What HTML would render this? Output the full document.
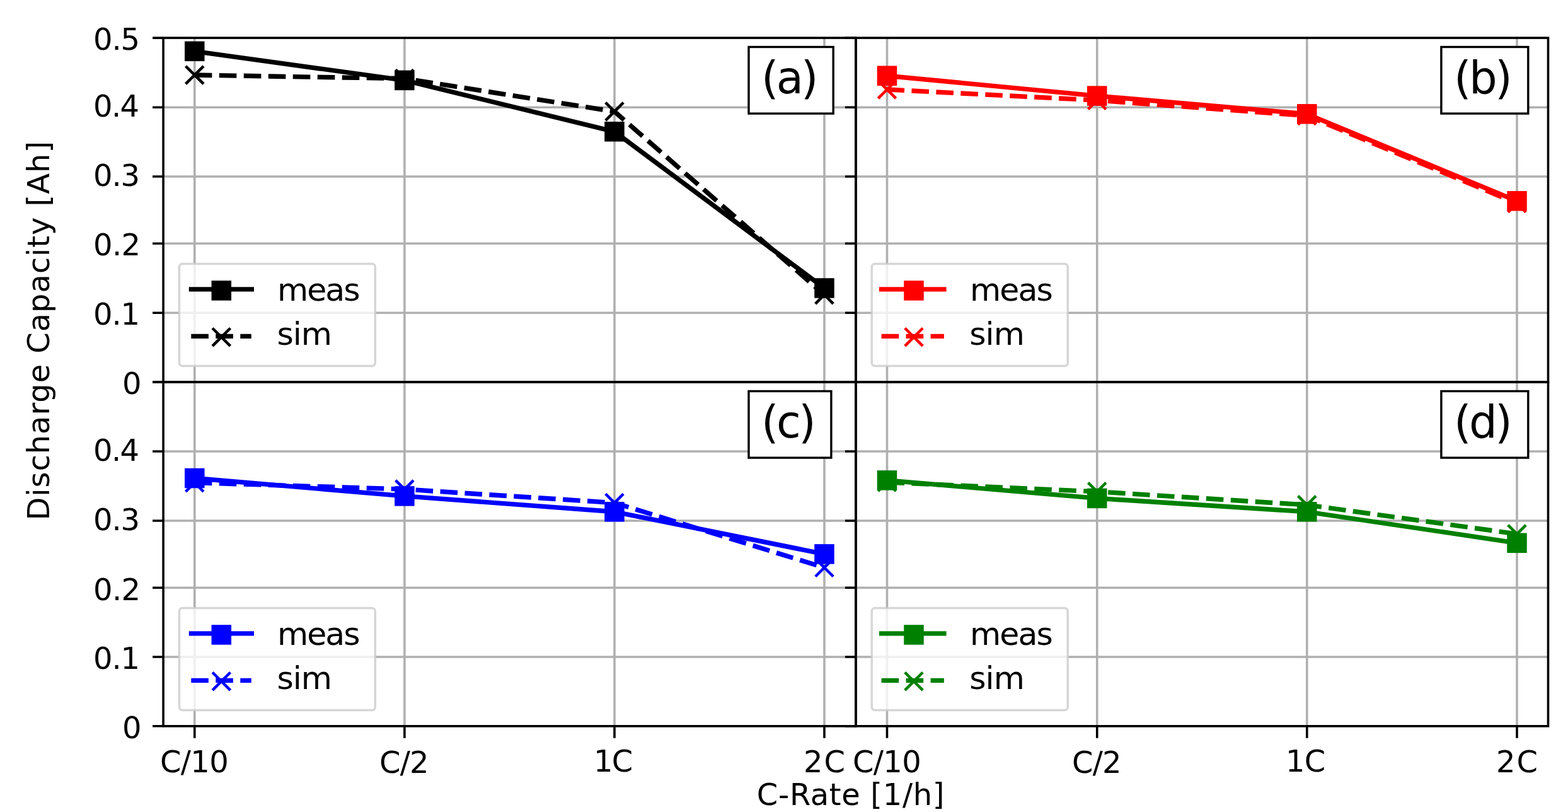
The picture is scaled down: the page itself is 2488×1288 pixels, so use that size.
<!DOCTYPE html><html><head><meta charset="utf-8"><title>Discharge Capacity vs C-Rate</title>
<style>html,body{margin:0;padding:0;background:#fff;overflow:hidden;}svg{display:block;}text{font-family:'DejaVu Sans', 'Liberation Sans', sans-serif;fill:#000;white-space:pre;}</style></head><body>
<svg width="2488" height="1288" viewBox="0 0 2488 1288">
<rect width="2488" height="1288" fill="#fff"/>
<g>
<path d="M308.8 60.1V606.1M641.9 60.1V606.1M975 60.1V606.1M1308 60.1V606.1M259.1 170.2H1358M259.1 280H1358M259.1 386.3H1358M259.1 496.2H1358" stroke="#b0b0b0" stroke-width="3.6" fill="none"/>
<polyline points="308.8,81.3 641.9,127.4 975,208.8 1308,457" fill="none" stroke="#000000" stroke-width="7.4" stroke-linejoin="round"/>
<rect x="295.3" y="67.8" width="27" height="27" fill="#000000" stroke="#000000" stroke-width="4.5"/>
<rect x="628.4" y="113.9" width="27" height="27" fill="#000000" stroke="#000000" stroke-width="4.5"/>
<rect x="961.5" y="195.3" width="27" height="27" fill="#000000" stroke="#000000" stroke-width="4.5"/>
<rect x="1294.5" y="443.5" width="27" height="27" fill="#000000" stroke="#000000" stroke-width="4.5"/>
<polyline points="308.8,119 641.9,124.6 975,176.9 1308,467.6" fill="none" stroke="#000000" stroke-width="7.4" stroke-dasharray="27.6 11.4" stroke-linejoin="round"/>
<path d="M294.6 104.8L323 133.2M294.6 133.2L323 104.8" stroke="#000000" stroke-width="4.5" fill="none"/>
<path d="M627.7 110.4L656.1 138.8M627.7 138.8L656.1 110.4" stroke="#000000" stroke-width="4.5" fill="none"/>
<path d="M960.8 162.7L989.2 191.1M960.8 191.1L989.2 162.7" stroke="#000000" stroke-width="4.5" fill="none"/>
<path d="M1293.8 453.4L1322.2 481.8M1293.8 481.8L1322.2 453.4" stroke="#000000" stroke-width="4.5" fill="none"/>
<rect x="1188" y="74.5" width="134.2" height="105.6" fill="#fff" stroke="#000" stroke-width="3.4"/>
<text id="lbla" font-size="70.5" textLength="90.62" lengthAdjust="spacing" x="1208" y="147.75">(a)</text>
<rect x="284.4" y="418.4" width="310.9" height="162" rx="5" ry="5" fill="#fff" fill-opacity="0.8" stroke="#cccccc" stroke-opacity="0.8" stroke-width="3.5"/>
<path d="M303.5 458.9H399.3" stroke="#000000" stroke-width="7.4" stroke-linecap="square"/>
<rect x="337.8" y="447.4" width="27" height="27" fill="#000000" stroke="#000000" stroke-width="4.5"/>
<path d="M303.3 533.4H398.8" stroke="#000000" stroke-width="7.4" stroke-dasharray="27.6 11.4"/>
<path d="M337.1 520.5L365.5 548.9M337.1 548.9L365.5 520.5" stroke="#000000" stroke-width="4.5" fill="none"/>
<text id="meas00" font-size="50.5" textLength="131.53" lengthAdjust="spacing" x="440.1" y="476.5">meas</text>
<text id="sim00" font-size="50.5" textLength="87.35" lengthAdjust="spacing" x="439.5" y="547.05">sim</text>
<rect x="259.1" y="60.1" width="1098.9" height="546" fill="none" stroke="#000" stroke-width="3.6"/>
<path d="M242.1 60.1H259.1M242.1 170.2H259.1M242.1 280H259.1M242.1 386.3H259.1M242.1 496.2H259.1M242.1 606.1H259.1" stroke="#000" stroke-width="3.6" fill="none"/>
</g>
<g>
<path d="M1407.5 60.1V606.1M1740.75 60.1V606.1M2073.8 60.1V606.1M2407 60.1V606.1M1358 170.2H2456.5M1358 280H2456.5M1358 386.3H2456.5M1358 496.2H2456.5" stroke="#b0b0b0" stroke-width="3.6" fill="none"/>
<polyline points="1407.5,120.2 1740.75,152.1 2073.8,180.8 2407,318.8" fill="none" stroke="#ff0000" stroke-width="7.4" stroke-linejoin="round"/>
<rect x="1394" y="106.7" width="27" height="27" fill="#ff0000" stroke="#ff0000" stroke-width="4.5"/>
<rect x="1727.25" y="138.6" width="27" height="27" fill="#ff0000" stroke="#ff0000" stroke-width="4.5"/>
<rect x="2060.3" y="167.3" width="27" height="27" fill="#ff0000" stroke="#ff0000" stroke-width="4.5"/>
<rect x="2393.5" y="305.3" width="27" height="27" fill="#ff0000" stroke="#ff0000" stroke-width="4.5"/>
<polyline points="1407.5,142 1740.75,159.1 2073.8,183.5 2407,322.5" fill="none" stroke="#ff0000" stroke-width="7.4" stroke-dasharray="27.6 11.4" stroke-linejoin="round"/>
<path d="M1393.3 127.8L1421.7 156.2M1393.3 156.2L1421.7 127.8" stroke="#ff0000" stroke-width="4.5" fill="none"/>
<path d="M1726.55 144.9L1754.95 173.3M1726.55 173.3L1754.95 144.9" stroke="#ff0000" stroke-width="4.5" fill="none"/>
<path d="M2059.6 169.3L2088 197.7M2059.6 197.7L2088 169.3" stroke="#ff0000" stroke-width="4.5" fill="none"/>
<path d="M2392.8 308.3L2421.2 336.7M2392.8 336.7L2421.2 308.3" stroke="#ff0000" stroke-width="4.5" fill="none"/>
<rect x="2286.9" y="74.5" width="137.9" height="105.6" fill="#fff" stroke="#000" stroke-width="3.4"/>
<text id="lblb" font-size="70.5" textLength="92.77" lengthAdjust="spacing" x="2307" y="147.75">(b)</text>
<rect x="1383.3" y="418.4" width="310.9" height="162" rx="5" ry="5" fill="#fff" fill-opacity="0.8" stroke="#cccccc" stroke-opacity="0.8" stroke-width="3.5"/>
<path d="M1398.7 458.9H1497.9" stroke="#ff0000" stroke-width="7.4" stroke-linecap="square"/>
<rect x="1436.5" y="447.4" width="27" height="27" fill="#ff0000" stroke="#ff0000" stroke-width="4.5"/>
<path d="M1398.6 533.4H1497.9" stroke="#ff0000" stroke-width="7.4" stroke-dasharray="27.6 11.4"/>
<path d="M1435.8 520.5L1464.2 548.9M1435.8 548.9L1464.2 520.5" stroke="#ff0000" stroke-width="4.5" fill="none"/>
<text id="meas01" font-size="50.5" textLength="131.73" lengthAdjust="spacing" x="1539" y="476.5">meas</text>
<text id="sim01" font-size="50.5" textLength="87.65" lengthAdjust="spacing" x="1538.2" y="546.85">sim</text>
<rect x="1358" y="60.1" width="1098.5" height="546" fill="none" stroke="#000" stroke-width="3.6"/>
<path d="M1341 60.1H1358M1341 170.2H1358M1341 280H1358M1341 386.3H1358M1341 496.2H1358M1341 606.1H1358" stroke="#000" stroke-width="3.6" fill="none"/>
</g>
<g>
<path d="M308.8 606.1V1151.8M641.9 606.1V1151.8M975 606.1V1151.8M1308 606.1V1151.8M259.1 716H1358M259.1 826H1358M259.1 932.2H1358M259.1 1042H1358" stroke="#b0b0b0" stroke-width="3.6" fill="none"/>
<polyline points="308.8,758.5 641.9,786.9 975,811.8 1308,878.9" fill="none" stroke="#0000ff" stroke-width="7.4" stroke-linejoin="round"/>
<rect x="295.3" y="745" width="27" height="27" fill="#0000ff" stroke="#0000ff" stroke-width="4.5"/>
<rect x="628.4" y="773.4" width="27" height="27" fill="#0000ff" stroke="#0000ff" stroke-width="4.5"/>
<rect x="961.5" y="798.3" width="27" height="27" fill="#0000ff" stroke="#0000ff" stroke-width="4.5"/>
<rect x="1294.5" y="865.4" width="27" height="27" fill="#0000ff" stroke="#0000ff" stroke-width="4.5"/>
<polyline points="308.8,765.6 641.9,776 975,797.6 1308,900.3" fill="none" stroke="#0000ff" stroke-width="7.4" stroke-dasharray="27.6 11.4" stroke-linejoin="round"/>
<path d="M294.6 751.4L323 779.8M294.6 779.8L323 751.4" stroke="#0000ff" stroke-width="4.5" fill="none"/>
<path d="M627.7 761.8L656.1 790.2M627.7 790.2L656.1 761.8" stroke="#0000ff" stroke-width="4.5" fill="none"/>
<path d="M960.8 783.4L989.2 811.8M960.8 811.8L989.2 783.4" stroke="#0000ff" stroke-width="4.5" fill="none"/>
<path d="M1293.8 886.1L1322.2 914.5M1293.8 914.5L1322.2 886.1" stroke="#0000ff" stroke-width="4.5" fill="none"/>
<rect x="1188" y="620.5" width="130.9" height="105.6" fill="#fff" stroke="#000" stroke-width="3.4"/>
<text id="lblc" font-size="70.5" textLength="86.78" lengthAdjust="spacing" x="1208" y="693.75">(c)</text>
<rect x="284.4" y="964.4" width="310.9" height="162" rx="5" ry="5" fill="#fff" fill-opacity="0.8" stroke="#cccccc" stroke-opacity="0.8" stroke-width="3.5"/>
<path d="M303.5 1004.9H399.3" stroke="#0000ff" stroke-width="7.4" stroke-linecap="square"/>
<rect x="337.8" y="993.4" width="27" height="27" fill="#0000ff" stroke="#0000ff" stroke-width="4.5"/>
<path d="M303.3 1079.4H398.8" stroke="#0000ff" stroke-width="7.4" stroke-dasharray="27.6 11.4"/>
<path d="M337.1 1066.5L365.5 1094.9M337.1 1094.9L365.5 1066.5" stroke="#0000ff" stroke-width="4.5" fill="none"/>
<text id="meas10" font-size="50.5" textLength="131.53" lengthAdjust="spacing" x="440.1" y="1022.5">meas</text>
<text id="sim10" font-size="50.5" textLength="87.35" lengthAdjust="spacing" x="439.5" y="1093.05">sim</text>
<rect x="259.1" y="606.1" width="1098.9" height="545.7" fill="none" stroke="#000" stroke-width="3.6"/>
<path d="M242.1 606.1H259.1M242.1 716H259.1M242.1 826H259.1M242.1 932.2H259.1M242.1 1042H259.1M242.1 1151.8H259.1M308.8 1151.8V1170.8M641.9 1151.8V1170.8M975 1151.8V1170.8M1308 1151.8V1170.8" stroke="#000" stroke-width="3.6" fill="none"/>
</g>
<g>
<path d="M1407.5 606.1V1151.8M1740.75 606.1V1151.8M2073.8 606.1V1151.8M2407 606.1V1151.8M1358 716H2456.5M1358 826H2456.5M1358 932.2H2456.5M1358 1042H2456.5" stroke="#b0b0b0" stroke-width="3.6" fill="none"/>
<polyline points="1407.5,761.9 1740.75,790.4 2073.8,811.8 2407,861.3" fill="none" stroke="#008000" stroke-width="7.4" stroke-linejoin="round"/>
<rect x="1394" y="748.4" width="27" height="27" fill="#008000" stroke="#008000" stroke-width="4.5"/>
<rect x="1727.25" y="776.9" width="27" height="27" fill="#008000" stroke="#008000" stroke-width="4.5"/>
<rect x="2060.3" y="798.3" width="27" height="27" fill="#008000" stroke="#008000" stroke-width="4.5"/>
<rect x="2393.5" y="847.8" width="27" height="27" fill="#008000" stroke="#008000" stroke-width="4.5"/>
<polyline points="1407.5,765 1740.75,779.8 2073.8,800.9 2407,847" fill="none" stroke="#008000" stroke-width="7.4" stroke-dasharray="27.6 11.4" stroke-linejoin="round"/>
<path d="M1393.3 750.8L1421.7 779.2M1393.3 779.2L1421.7 750.8" stroke="#008000" stroke-width="4.5" fill="none"/>
<path d="M1726.55 765.6L1754.95 794M1726.55 794L1754.95 765.6" stroke="#008000" stroke-width="4.5" fill="none"/>
<path d="M2059.6 786.7L2088 815.1M2059.6 815.1L2088 786.7" stroke="#008000" stroke-width="4.5" fill="none"/>
<path d="M2392.8 832.8L2421.2 861.2M2392.8 861.2L2421.2 832.8" stroke="#008000" stroke-width="4.5" fill="none"/>
<rect x="2286.9" y="620.5" width="137.9" height="105.6" fill="#fff" stroke="#000" stroke-width="3.4"/>
<text id="lbld" font-size="70.5" textLength="92.77" lengthAdjust="spacing" x="2307" y="693.75">(d)</text>
<rect x="1383.3" y="964.4" width="310.9" height="162" rx="5" ry="5" fill="#fff" fill-opacity="0.8" stroke="#cccccc" stroke-opacity="0.8" stroke-width="3.5"/>
<path d="M1398.7 1004.9H1497.9" stroke="#008000" stroke-width="7.4" stroke-linecap="square"/>
<rect x="1436.5" y="993.4" width="27" height="27" fill="#008000" stroke="#008000" stroke-width="4.5"/>
<path d="M1398.6 1079.4H1497.9" stroke="#008000" stroke-width="7.4" stroke-dasharray="27.6 11.4"/>
<path d="M1435.8 1066.5L1464.2 1094.9M1435.8 1094.9L1464.2 1066.5" stroke="#008000" stroke-width="4.5" fill="none"/>
<text id="meas11" font-size="50.5" textLength="131.73" lengthAdjust="spacing" x="1539" y="1022.5">meas</text>
<text id="sim11" font-size="50.5" textLength="87.65" lengthAdjust="spacing" x="1538.2" y="1092.85">sim</text>
<rect x="1358" y="606.1" width="1098.5" height="545.7" fill="none" stroke="#000" stroke-width="3.6"/>
<path d="M1341 606.1H1358M1341 716H1358M1341 826H1358M1341 932.2H1358M1341 1042H1358M1341 1151.8H1358M1407.5 1151.8V1170.8M1740.75 1151.8V1170.8M2073.8 1151.8V1170.8M2407 1151.8V1170.8" stroke="#000" stroke-width="3.6" fill="none"/>
</g>
<text id="yt00" font-size="48" textLength="74.24" lengthAdjust="spacing" x="147.9" y="79.1">0.5</text>
<text id="yt01" font-size="48" textLength="73.24" lengthAdjust="spacing" x="147.9" y="185.45">0.4</text>
<text id="yt02" font-size="48" textLength="74.24" lengthAdjust="spacing" x="147.9" y="295.45">0.3</text>
<text id="yt03" font-size="48" textLength="75.24" lengthAdjust="spacing" x="147.9" y="405.3">0.2</text>
<text id="yt04" font-size="48" textLength="74.24" lengthAdjust="spacing" x="147.9" y="515.2">0.1</text>
<text id="yt05" font-size="48" textLength="38.45" lengthAdjust="spacing" x="194.1" y="624.85">0</text>
<text id="yt11" font-size="48" textLength="73.24" lengthAdjust="spacing" x="147.9" y="731.2">0.4</text>
<text id="yt12" font-size="48" textLength="74.24" lengthAdjust="spacing" x="147.9" y="841.2">0.3</text>
<text id="yt13" font-size="48" textLength="75.24" lengthAdjust="spacing" x="147.9" y="951.85">0.2</text>
<text id="yt14" font-size="48" textLength="74.24" lengthAdjust="spacing" x="147.9" y="1061.2">0.1</text>
<text id="yt15" font-size="48" textLength="38.45" lengthAdjust="spacing" x="194.1" y="1171">0</text>
<text id="xt00" font-size="48" textLength="108.77" lengthAdjust="spacing" x="254" y="1225.35">C/10</text>
<text id="xt01" font-size="48" textLength="78.63" lengthAdjust="spacing" x="602" y="1225.7">C/2</text>
<text id="xt02" font-size="48" textLength="62.36" lengthAdjust="spacing" x="942" y="1224.1">1C</text>
<text id="xt03" font-size="48" textLength="65.96" lengthAdjust="spacing" x="1275" y="1224.55">2C</text>
<text id="xt10" font-size="48" textLength="108.77" lengthAdjust="spacing" x="1353" y="1225.35">C/10</text>
<text id="xt11" font-size="48" textLength="78.63" lengthAdjust="spacing" x="1701" y="1225.7">C/2</text>
<text id="xt12" font-size="48" textLength="63.36" lengthAdjust="spacing" x="2040" y="1224.1">1C</text>
<text id="xt13" font-size="48" textLength="65.96" lengthAdjust="spacing" x="2374" y="1224.55">2C</text>
<text id="xlabel" font-size="48" textLength="297.65" lengthAdjust="spacing" x="1200.8" y="1276.75">C-Rate [1/h]</text>
<text id="ylabel" font-size="48" textLength="601.72" lengthAdjust="spacing" x="0" y="0" transform="translate(77.95 825.6) rotate(-90)">Discharge Capacity [Ah]</text>
</svg></body></html>
